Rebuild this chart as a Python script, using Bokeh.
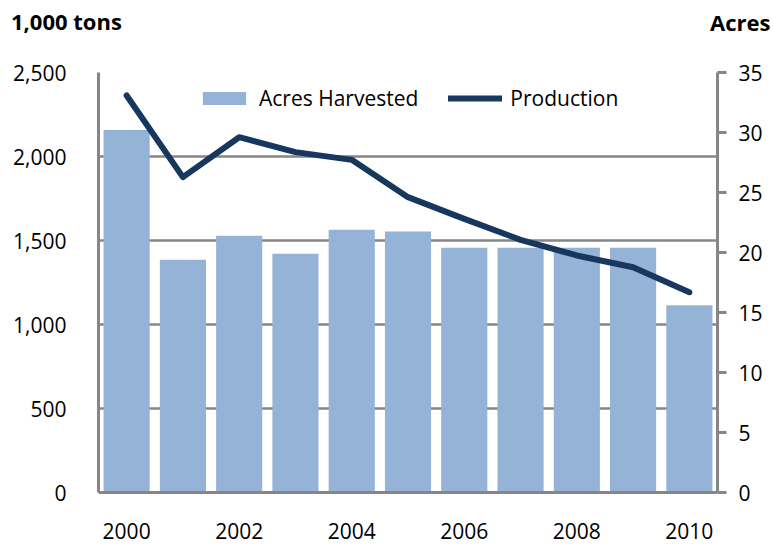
from bokeh.plotting import figure
from bokeh.models import (Range1d, LinearAxis, FixedTicker, NumeralTickFormatter,
                          Legend, LegendItem, ColumnDataSource, Div)
from bokeh.layouts import column
from bokeh.embed import file_html
from bokeh.resources import INLINE

years = [2000, 2001, 2002, 2003, 2004, 2005, 2006, 2007, 2008, 2009, 2010]
acres_harvested = [30.2, 19.4, 21.4, 19.9, 21.9, 21.75, 20.4, 20.4, 20.4, 20.4, 15.6]
production = [2363, 1877, 2115, 2026, 1980, 1758, 1629, 1504, 1411, 1341, 1192]
x_ticks = [2000, 2002, 2004, 2006, 2008, 2010]
left_ticks = [0, 500, 1000, 1500, 2000, 2500]
right_ticks = [0, 5, 10, 15, 20, 25, 30, 35]
left_title = "1,000 tons"
right_title = "Acres"

FONT = "Open Sans"
FS = "21px"
GRAY = "#868686"

src = ColumnDataSource(dict(year=years, acres=acres_harvested, prod=production))

p = figure(width=774, height=508, output_backend="svg", toolbar_location=None,
           x_range=Range1d(1999.5, 2010.5), y_range=Range1d(0, 2500),
           min_border_left=98, min_border_right=57, min_border_top=32, min_border_bottom=56)
p.extra_y_ranges = {"acres": Range1d(0, 35)}
p.outline_line_color = None

bars = p.vbar(x="year", top="acres", width=0.82, source=src, y_range_name="acres",
              fill_color="#95B3D7", line_color=None)
line = p.line(x="year", y="prod", source=src, line_color="#17375E", line_width=6,
              line_cap="round", line_join="round")

xa = p.xaxis[0]
xa.ticker = FixedTicker(ticks=x_ticks)
xa.formatter = NumeralTickFormatter(format="0")
xa.axis_line_color = GRAY
xa.axis_line_width = 3
xa.major_tick_line_color = None
xa.minor_tick_line_color = None
xa.major_label_standoff = 24
xa.major_label_text_font = FONT
xa.major_label_text_font_size = FS
xa.major_label_text_color = "black"

ya = p.yaxis[0]
ya.ticker = FixedTicker(ticks=left_ticks)
ya.formatter = NumeralTickFormatter(format="0,0")
ya.axis_line_color = GRAY
ya.axis_line_width = 3
ya.major_tick_line_color = None
ya.minor_tick_line_color = None
ya.major_label_standoff = 26
ya.major_label_text_font = FONT
ya.major_label_text_font_size = FS
ya.major_label_text_color = "black"

ra = LinearAxis(y_range_name="acres", ticker=FixedTicker(ticks=right_ticks))
ra.axis_line_color = GRAY
ra.axis_line_width = 3
ra.major_tick_line_color = GRAY
ra.major_tick_line_width = 3
ra.major_tick_out = 9
ra.major_tick_in = 0
ra.minor_tick_line_color = None
ra.major_label_standoff = 12
ra.major_label_text_font = FONT
ra.major_label_text_font_size = FS
ra.major_label_text_color = "black"
p.add_layout(ra, "right")

p.xgrid.grid_line_color = None
p.ygrid.ticker = FixedTicker(ticks=left_ticks)
p.ygrid.grid_line_color = GRAY
p.ygrid.grid_line_width = 2.5

legend = Legend(items=[LegendItem(label="Acres Harvested", renderers=[bars]),
                       LegendItem(label="Production", renderers=[line])],
                orientation="horizontal", location=(99, 380),
                padding=0, margin=0, spacing=30, glyph_width=54, glyph_height=16,
                label_standoff=8, label_text_font=FONT, label_text_font_size=FS,
                label_text_color="black", background_fill_alpha=0, border_line_color=None)
p.add_layout(legend, "center")

header = Div(
    text=('<div style="position:relative;width:774px;height:40px;font-family:\'Open Sans\';'
          'font-weight:bold;font-size:22px;line-height:22px;color:black;">'
          f'<span style="position:absolute;left:11px;top:10px;white-space:nowrap;">{left_title}</span>'
          f'<span style="position:absolute;left:710px;top:11px;white-space:nowrap;">{right_title}</span>'
          '</div>'),
    width=774, height=40, margin=0)

layout = column(header, p, spacing=0)
open("out.html", "w").write(file_html(layout, INLINE))
